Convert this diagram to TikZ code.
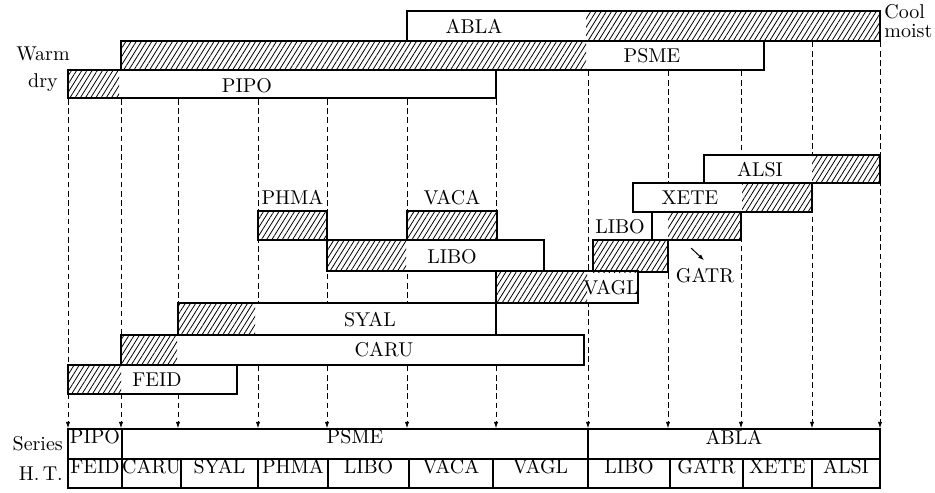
\documentclass[tikz,border=0pt]{standalone}
\usepackage{tikz}
\usetikzlibrary{arrows.meta,positioning,fit,backgrounds,patterns.meta}

\begin{document}
\begin{tikzpicture}[x=0.5pt,y=-0.5pt,
    bar/.style={draw,line width=0.9pt,fill=white,inner sep=0pt},
    hatch/.style={pattern={Lines[angle=58,distance=2.2pt,line width=0.4pt]}},
    lbl/.style={inner sep=1pt},
    cell/.style={draw,line width=0.8pt,inner sep=0pt},
    guide/.style={dash pattern=on 2.8pt off 1.8pt,line width=0.4pt,
                  -{Latex[length=3.2pt,width=2.2pt]}},
    >={Latex[length=3pt,width=2.2pt]}]
  \useasboundingbox (0,0) rectangle (935,492);
  % series bars
  \node[bar,fit={(407,11)(880,41)}] (abla) {};
  \node[bar,fit={(121,41)(764,70)}] (psme) {};
  \node[bar,fit={(68,70)(496,98)}] (pipo) {};
  \fill[hatch] (586,0 |- abla.north) rectangle (abla.south east);
  \fill[hatch] (psme.north west) rectangle (586,0 |- psme.south);
  \fill[hatch] (pipo.north west) rectangle (119,0 |- pipo.south);
  \node[lbl] (lABLA) at (474,26) {ABLA};
  \node[lbl] (lPSME) at (652,56) {PSME};
  \node[lbl] (lPIPO) at (247,86) {PIPO};
  \node[lbl,align=center] (warm) at (43,69.5) {Warm\\[1.5pt]dry};
  \node[lbl,align=left,anchor=west] (cool) at (882,21.5) {Cool\\[-2.5pt]moist};
  % habitat type bars
  \node[bar,fit={(704,155)(880,183)}] (alsi) {};
  \node[bar,fit={(633,183)(812,212)}] (xete) {};
  \node[bar,fit={(652,212)(741,240)}] (gatr) {};
  \node[bar,fit={(593,240)(668,272)}] (liboA) {};
  \node[bar,fit={(258,211)(327,240)}] (phma) {};
  \node[bar,fit={(407,211)(497,240)}] (vaca) {};
  \node[bar,fit={(327,240)(544,271)}] (libo) {};
  \node[bar,fit={(496,271)(638,303)}] (vagl) {};
  \node[bar,fit={(178,303)(496,335)}] (syal) {};
  \node[bar,fit={(121,335)(584,365)}] (caru) {};
  \node[bar,fit={(68,365)(237,394)}] (feid) {};
  \fill[hatch] (812,0 |- alsi.north) rectangle (alsi.south east);
  \fill[hatch] (742,0 |- xete.north) rectangle (xete.south east);
  \fill[hatch] (668,0 |- gatr.north) rectangle (gatr.south east);
  \fill[hatch] (liboA.north west) rectangle (liboA.south east);
  \fill[hatch] (phma.north west) rectangle (phma.south east);
  \fill[hatch] (vaca.north west) rectangle (vaca.south east);
  \fill[hatch] (libo.north west) rectangle (406,0 |- libo.south);
  \fill[hatch] (vagl.north west) rectangle (587,0 |- vagl.south);
  \fill[hatch] (syal.north west) rectangle (255,0 |- syal.south);
  \fill[hatch] (caru.north west) rectangle (177,0 |- caru.south);
  \fill[hatch] (feid.north west) rectangle (121,0 |- feid.south);
  \node[lbl] (lALSI) at (760,170) {ALSI};
  \node[lbl] (lXETE) at (690,198) {XETE};
  \node[lbl] (lLIBOa) at (620,227) {LIBO};
  \node[lbl] (lGATR) at (705,276) {GATR};
  \node[lbl,above=1.5pt of phma] (lPHMA) {PHMA};
  \node[lbl,above=1.5pt of vaca] (lVACA) {VACA};
  \node[lbl] (lLIBO) at (452,257) {LIBO};
  \node[lbl] (lVAGL) at (611,288) {VAGL};
  \node[lbl] (lSYAL) at (370,320) {SYAL};
  \node[lbl] (lCARU) at (384,350) {CARU};
  \node[lbl] (lFEID) at (157,380) {FEID};
  \coordinate (gatrArr) at (691,248);
  \draw[->,line width=0.5pt] (gatrArr) -- ([shift={(-1,-6)}]lGATR.north);
  % table
  \node[cell,fit={(68,429)(122,459)}] (sPIPO) {PIPO};
  \node[cell,fit={(122,429)(588,459)}] (sPSME) {PSME};
  \node[cell,fit={(588,429)(880,459)}] (sABLA) {ABLA};
  \node[cell,fit={(68,459)(122,488)}] (hFEID) {FEID};
  \node[cell,fit={(122,459)(181,488)}] (hCARU) {CARU};
  \node[cell,fit={(181,459)(258,488)}] (hSYAL) {SYAL};
  \node[cell,fit={(258,459)(328,488)}] (hPHMA) {PHMA};
  \node[cell,fit={(328,459)(409,488)}] (hLIBO) {LIBO};
  \node[cell,fit={(409,459)(493,488)}] (hVACA) {VACA};
  \node[cell,fit={(493,459)(588,488)}] (hVAGL) {VAGL};
  \node[cell,fit={(588,459)(670,488)}] (hLIBOa) {LIBO};
  \node[cell,fit={(670,459)(743,488)}] (hGATR) {GATR};
  \node[cell,fit={(743,459)(812,488)}] (hXETE) {XETE};
  \node[cell,fit={(812,459)(880,488)}] (hALSI) {ALSI};
  \node[lbl,left=1pt of sPIPO] (lSeries) {Series};
  \node[lbl,left=1pt of hFEID] (lHT) {H.\,T.};
  % dashed guides
  \begin{scope}[on background layer]
    \draw[guide] (68,0 |- pipo.south) -- (68,0 |- sPIPO.north);
    \draw[guide] (121,0 |- pipo.south) -- (121,0 |- sPSME.north);
    \draw[guide] (178,0 |- pipo.south) -- (178,0 |- sPSME.north);
    \draw[guide] (258,0 |- pipo.south) -- (258,0 |- sPSME.north);
    \draw[guide] (327,0 |- pipo.south) -- (327,0 |- sPSME.north);
    \draw[guide] (407,0 |- pipo.south) -- (407,0 |- sPSME.north);
    \draw[guide] (496,0 |- pipo.south) -- (496,0 |- sPSME.north);
    \draw[guide] (588,0 |- psme.south) -- (588,0 |- sABLA.north);
    \draw[guide] (668,0 |- psme.south) -- (668,0 |- sABLA.north);
    \draw[guide] (741,0 |- psme.south) -- (741,0 |- sABLA.north);
    \draw[guide] (812,0 |- abla.south) -- (812,0 |- sABLA.north);
    \draw[guide] (880,0 |- abla.south) -- (880,0 |- sABLA.north);
  \end{scope}
\end{tikzpicture}
\end{document}
